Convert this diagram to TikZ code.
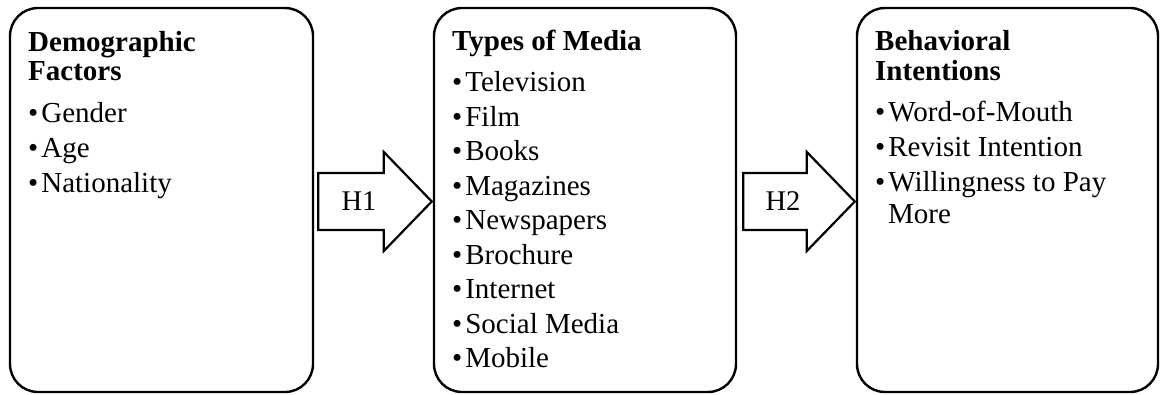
\documentclass[tikz,border=0pt]{standalone}
\usepackage{fontspec}
\setmainfont{Liberation Serif}
\usetikzlibrary{calc}

% block arrow from tail coordinate #1 to tip coordinate #2
\newcommand\blockarrow[2]{%
  \draw[barrow] ($(#1)+(0,-28.5)$) -- ($(#2)+(-48,-28.5)$) -- ($(#2)+(-48,-49.5)$)
    -- (#2) -- ($(#2)+(-48,49.5)$) -- ($(#2)+(-48,28.5)$) -- ($(#1)+(0,28.5)$) -- cycle;}

\tikzset{
  panel/.style={draw, line width=2.4pt, rectangle, rounded corners=28pt,
    minimum height=384pt, inner sep=0pt},
  barrow/.style={draw, line width=2.2pt, line join=miter, fill=white},
  title/.style={anchor=base west, inner sep=0pt, font=\fontsize{29}{31}\selectfont\bfseries},
  item/.style={anchor=base west, inner sep=0pt, font=\fontsize{29}{34}\selectfont},
  hlabel/.style={anchor=base, inner sep=0pt, font=\fontsize{28.5}{34}\selectfont},
}
\newcommand\bul{\textbullet\hspace{3pt}}

\begin{document}
\begin{tikzpicture}[x=1pt, y=-1pt]
\useasboundingbox (0,0) rectangle (1160,394);

% three panels
\node[panel, minimum width=303pt] (b1) at (161.5,200) {};
\node[panel, minimum width=302pt] (b2) at (585,200) {};
\node[panel, minimum width=301pt] (b3) at (1007.5,200) {};

% hypothesis arrows
\coordinate (t1) at ($(b1.east)+(4,1.5)$);
\coordinate (p1) at ($(b2.west)+(-1,1.5)$);
\coordinate (t2) at ($(b2.east)+(6,1.5)$);
\coordinate (p2) at ($(b3.west)+(-1,1.5)$);
\blockarrow{t1}{p1}
\blockarrow{t2}{p2}
\node[hlabel] (h1) at (359,210) {H1};
\node[hlabel] (h2) at (783,210.5) {H2};

% left panel
\node[title] (lt1) at (28,51.5) {Demographic};
\node[title] (lt2) at (28,80.5) {Factors};
\foreach \t [count=\i] in {Gender,Age,Nationality}
  \node[item] (l\i) at (28,{122.5+(\i-1)*34.8}) {\bul\t};

% middle panel
\node[title] (mt1) at (452,50.5) {Types of Media};
\foreach \t [count=\i] in {Television,Film,Books,Magazines,Newspapers,Brochure,Internet,Social Media,Mobile}
  \node[item] (m\i) at (452,{91.7+(\i-1)*34.5}) {\bul\t};

% right panel
\node[title] (rt1) at (875,50.7) {Behavioral};
\node[title] (rt2) at (875,80) {Intentions};
\foreach \t [count=\i] in {Word-of-Mouth,Revisit Intention,Willingness to Pay}
  \node[item] (r\i) at (875,{121.7+(\i-1)*35}) {\bul\t};
\node[item] (r4) at (888,223.3) {More};
\end{tikzpicture}
\end{document}
